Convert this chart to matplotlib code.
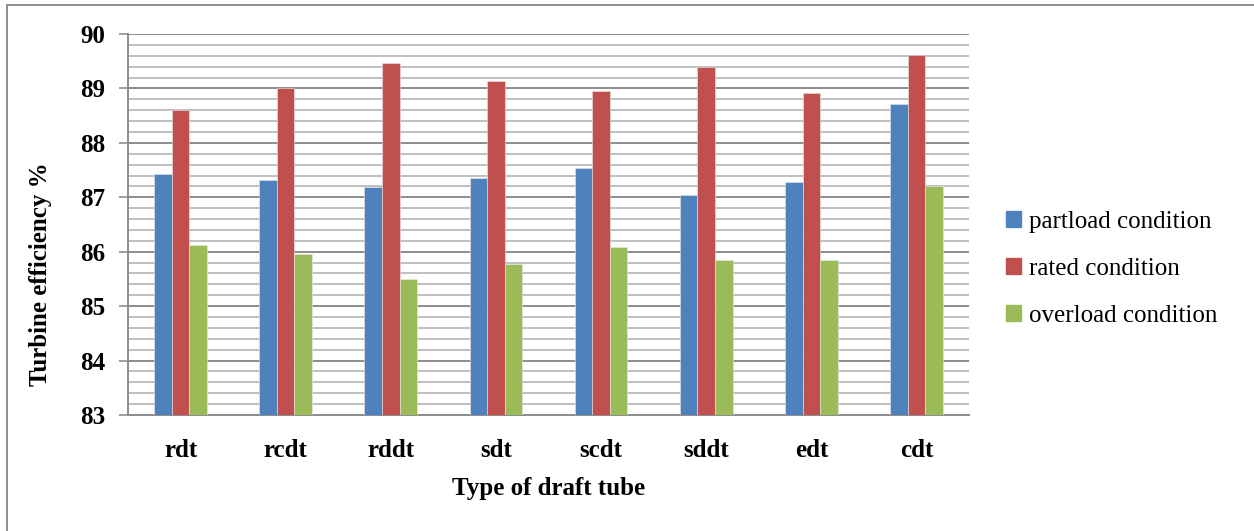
import numpy as np
import matplotlib
matplotlib.use("Agg")
import matplotlib.pyplot as plt
from matplotlib.lines import Line2D

# draft tube types along x
TUBES = ["rdt", "rcdt", "rddt", "sdt", "scdt", "sddt", "edt", "cdt"]

# turbine efficiency %
PARTLOAD = [87.42, 87.31, 87.18, 87.36, 87.53, 87.05, 87.29, 88.71]
RATED    = [88.60, 89.00, 89.46, 89.14, 88.96, 89.39, 88.91, 89.61]
OVERLOAD = [86.12, 85.96, 85.50, 85.77, 86.09, 85.84, 85.84, 87.20]

SERIES = [
    ("partload condition", PARTLOAD, "#4F81BD"),
    ("rated condition",    RATED,    "#C0504D"),
    ("overload condition", OVERLOAD, "#9BBB59"),
]

plt.rcParams["font.family"] = ["Liberation Serif", "DejaVu Serif"]

W, H = 1254, 531
FS = 18
fig = plt.figure(figsize=(W / 100, H / 100), dpi=100)

# plot area in pixel coords -> figure fraction
x0, x1, y0, y1 = 128, 969, 34, 415
ax = fig.add_axes([x0 / W, 1 - y1 / H, (x1 - x0) / W, (y1 - y0) / H])

x = np.arange(len(TUBES))
bw = 0.167
for i, (name, vals, color) in enumerate(SERIES):
    ax.bar(x + (i - 1) * bw, np.array(vals) - 83, bw, bottom=83,
           color=color, edgecolor="#e8e8e8", linewidth=0.4,
           label=name, zorder=3)

ax.set_xlim(-0.5, len(TUBES) - 0.5)
ax.set_ylim(83, 90)

# gridlines: light minor every 0.2, darker major every 1
ax.set_yticks(np.arange(83, 91, 1))
ax.set_yticks(np.arange(83, 90.01, 0.2), minor=True)
ax.grid(True, which="minor", axis="y", color="#BFBFBF", linewidth=1.4, zorder=0)
ax.grid(True, which="major", axis="y", color="#8C8C8C", linewidth=1.4, zorder=1)
ax.tick_params(axis="y", which="minor", length=0)
ax.tick_params(axis="y", which="major", length=6.5, width=1.2, color="#8C8C8C",
               labelsize=FS, pad=10)
for lbl in ax.get_yticklabels():
    lbl.set_fontweight("bold")

ax.set_xticks(x)
ax.set_xticklabels(TUBES, fontsize=FS, fontweight="bold")
ax.tick_params(axis="x", length=0, pad=17)

for side in ["top", "right"]:
    ax.spines[side].set_visible(False)
for side in ["left", "bottom"]:
    ax.spines[side].set_color("#8C8C8C")
    ax.spines[side].set_linewidth(1.4)

ax.set_ylabel("Turbine efficiency %", fontsize=FS, fontweight="bold")
ax.yaxis.set_label_coords(-0.09, 0.37)
ax.set_xlabel("Type of draft tube", fontsize=FS, fontweight="bold", labelpad=11)

handles = [plt.Rectangle((0, 0), 1, 1, color=c) for _, _, c in SERIES]
fig.legend(handles, [s[0] for s in SERIES], loc="center left",
           bbox_to_anchor=(983 / W, 1 - 269 / H), frameon=False,
           fontsize=FS, handlelength=0.6, handleheight=0.6,
           handletextpad=0.35, labelspacing=1.0)

# outer chart frame (left and top edges)
fig.add_artist(Line2D([7 / W, 7 / W], [0, 1 - 5 / H], transform=fig.transFigure,
                      color="#8C8C8C", linewidth=1.4))
fig.add_artist(Line2D([7 / W, 1], [1 - 5 / H, 1 - 5 / H], transform=fig.transFigure,
                      color="#8C8C8C", linewidth=1.4))

fig.savefig("out.png", dpi=100, facecolor="white")
